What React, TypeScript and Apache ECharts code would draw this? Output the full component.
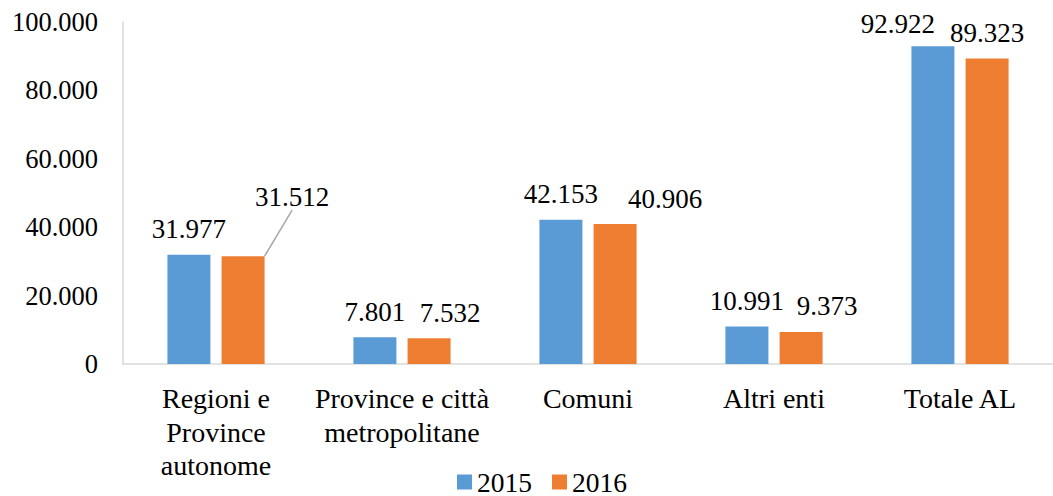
import React, { useEffect, useRef } from "react";
import * as echarts from "echarts";

const categories = [
  "Regioni e\nProvince\nautonome",
  "Province e città\nmetropolitane",
  "Comuni",
  "Altri enti",
  "Totale AL",
];
const seriesNames = ["2015", "2016"];
const values2015 = [31977, 7801, 42153, 10991, 92922];
const values2016 = [31512, 7532, 40906, 9373, 89323];
const yTicks = { min: 0, max: 100000, interval: 20000 };

// label displacements (pixels) as placed in the reference
const labelShift: Record<number, Array<[number, number]>> = {
  0: [[0, 0], [0, 0], [0, 0], [0, 0], [-35, 3]],
  1: [[49, -34], [21, 0], [50, 0], [26, 0], [0, 0]],
};

const fmt = (v: number) => String(v).replace(/\B(?=(\d{3})+(?!\d))/g, ".");

const FONT = "Liberation Serif";

export default function App() {
  const ref = useRef<HTMLDivElement>(null);
  useEffect(() => {
    if (!ref.current) return;
    const chart = echarts.init(ref.current, undefined, { renderer: "svg" });
    const labelCommon = {
      show: true,
      position: "top" as const,
      distance: 12,
      color: "#000",
      fontSize: 27,
      fontFamily: FONT,
      formatter: (p: any) => fmt(p.value),
    };
    chart.setOption({
      animation: false,
      backgroundColor: "#fff",
      textStyle: { fontFamily: FONT },
      grid: { left: 123, top: 22, width: 938.5, height: 342, containLabel: false },
      legend: {
        data: seriesNames,
        left: 452,
        top: 463,
        icon: "rect",
        itemWidth: 15,
        itemHeight: 15,
        itemGap: 20,
        textStyle: { color: "#000", fontSize: 27.5, fontFamily: FONT },
      },
      xAxis: {
        type: "category",
        data: categories,
        axisTick: { show: false },
        axisLine: { lineStyle: { color: "#d9d9d9", width: 1.5 } },
        axisLabel: {
          color: "#000",
          fontSize: 28,
          fontFamily: FONT,
          lineHeight: 33.5,
          margin: 18,
          interval: 0,
        },
      },
      yAxis: {
        type: "value",
        min: yTicks.min,
        max: yTicks.max,
        interval: yTicks.interval,
        splitLine: { show: false },
        axisTick: { show: false },
        axisLine: { show: true, lineStyle: { color: "#d9d9d9", width: 1.5 } },
        axisLabel: {
          color: "#000",
          fontSize: 26.5,
          fontFamily: FONT,
          margin: 25,
          formatter: (v: number) => fmt(v),
        },
      },
      series: [
        {
          name: seriesNames[0],
          type: "bar",
          data: values2015,
          barWidth: 43,
          barGap: "26%",
          itemStyle: { color: "#5b9bd5" },
          label: labelCommon,
          labelLayout: (p: any) => {
            const s = labelShift[0][p.dataIndex] || [0, 0];
            return { dx: s[0], dy: s[1] };
          },
        },
        {
          name: seriesNames[1],
          type: "bar",
          data: values2016.map((v, i) =>
            i === 0
              ? { value: v, labelLine: { show: true, lineStyle: { color: "#a6a6a6", width: 1.5 } } }
              : { value: v }
          ),
          barWidth: 43,
          barGap: "26%",
          itemStyle: { color: "#ed7d31" },
          label: labelCommon,
          labelLayout: (p: any) => {
            const s = labelShift[1][p.dataIndex] || [0, 0];
            return { dx: s[0], dy: s[1] };
          },
        },
      ],
    });
    return () => chart.dispose();
  }, []);
  return (
    <div
      ref={ref}
      style={{ position: "absolute", left: 0, top: 0, width: 1053, height: 496 }}
    />
  );
}
